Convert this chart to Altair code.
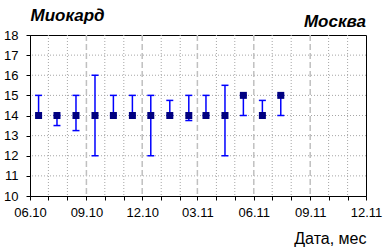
import altair as alt
import pandas as pd

dates = ["2010-06-15", "2010-07-15", "2010-08-15", "2010-09-15", "2010-10-15",
         "2010-11-15", "2010-12-15", "2011-01-15", "2011-02-15", "2011-03-15",
         "2011-04-15", "2011-05-15", "2011-06-15", "2011-07-15"]
values = [14, 14, 14, 14, 14, 14, 14, 14, 14, 14, 14, 15, 14, 15]
lows = [14, 13.5, 13.25, 12, 14, 14, 12, 14, 13.75, 14, 12, 14, 14, 14]
highs = [15, 14, 15, 16, 15, 15, 15, 14.75, 15, 15, 15.5, 15, 14.75, 15]

minor_months = ["2010-07-01", "2010-08-01", "2010-10-01", "2010-11-01", "2011-01-01",
                "2011-02-01", "2011-04-01", "2011-05-01", "2011-07-01", "2011-08-01",
                "2011-10-01", "2011-11-01"]
major_months = ["2010-09-01", "2010-12-01", "2011-03-01", "2011-06-01", "2011-09-01"]
hgrid_vals = [11, 12, 13, 14, 15, 16, 17]

df = pd.DataFrame({"date": dates, "value": values, "low": lows, "high": highs})
minor_df = pd.DataFrame({"date": minor_months})
major_df = pd.DataFrame({"date": major_months})
hgrid_df = pd.DataFrame({"y": hgrid_vals})

FONT = "Liberation Sans"

tick_vals = []
for i in range(19):
    y = 2010 + (5 + i) // 12
    m = (5 + i) % 12 + 1
    tick_vals.append(alt.DateTime(year=y, month=m, date=1, utc=True))

xscale = alt.Scale(type="utc",
                   domain=[alt.DateTime(year=2010, month=6, date=1, utc=True),
                           alt.DateTime(year=2011, month=12, date=1, utc=True)])
yscale = alt.Scale(domain=[10, 18], nice=False)

x_axis = alt.Axis(values=tick_vals,
                  labelExpr="(utcmonth(datum.value) + 1) % 3 == 0 ? utcFormat(datum.value, '%m.%y') : ''",
                  grid=False, tickSize=4, tickColor="black", domainColor="black",
                  labelFont=FONT, labelFontSize=13, labelColor="black", labelPadding=6,
                  labelFlush=False, labelOverlap=False,
                  title="Дата, мес", titleFont=FONT, titleFontSize=16, titleFontWeight="normal",
                  titleColor="black", titleAlign="right", titleBaseline="alphabetic",
                  titleX=336, titleY=47)
y_axis = alt.Axis(values=list(range(10, 19)), grid=False, tickSize=4, tickColor="black",
                  domainColor="black", labelFont=FONT, labelFontSize=13, labelColor="black",
                  labelPadding=8, labelOverlap=False,
                  title="Миокард", titleFont=FONT, titleFontSize=17, titleFontWeight="bold",
                  titleFontStyle="italic", titleColor="black", titleAngle=0,
                  titleAlign="left", titleBaseline="alphabetic", titleX=0, titleY=-15)

hgrid = alt.Chart(hgrid_df).mark_rule(color="#a6a6a6", strokeDash=[1, 2], strokeWidth=1).encode(
    y=alt.Y("y:Q", scale=yscale, axis=None))
minor = alt.Chart(minor_df).mark_rule(color="#a6a6a6", strokeDash=[1, 2], strokeWidth=1).encode(
    x=alt.X("date:T", scale=xscale, axis=None))
major = alt.Chart(major_df).mark_rule(color="#c0c0c0", strokeDash=[6, 3], strokeWidth=1.5).encode(
    x=alt.X("date:T", scale=xscale, axis=None))
err = alt.Chart(df).mark_rule(color="#0000ff", strokeWidth=1.5).encode(
    x=alt.X("date:T", scale=xscale, axis=None),
    y=alt.Y("low:Q", scale=yscale, axis=None), y2="high:Q")
cap_lo = alt.Chart(df).mark_tick(color="#0000ff", orient="horizontal", size=7, thickness=1.5,
                                 opacity=1).encode(
    x=alt.X("date:T", scale=xscale, axis=None), y=alt.Y("low:Q", scale=yscale, axis=None))
cap_hi = alt.Chart(df).mark_tick(color="#0000ff", orient="horizontal", size=7, thickness=1.5,
                                 opacity=1).encode(
    x=alt.X("date:T", scale=xscale, axis=None), y=alt.Y("high:Q", scale=yscale, axis=None))
pts = alt.Chart(df).mark_square(color="#000080", size=49, opacity=1, filled=True).encode(
    x=alt.X("date:T", scale=xscale, axis=x_axis),
    y=alt.Y("value:Q", scale=yscale, axis=y_axis))

chart = alt.layer(hgrid, minor, major, err, cap_lo, cap_hi, pts).resolve_axis(
    x="independent", y="independent"
).properties(
    width=336, height=161,
    autosize=alt.AutoSizeParams(type="none"),
    padding={"left": 30, "top": 35, "right": 23, "bottom": 56},
    background="white",
    title=alt.TitleParams("Москва", anchor="end", frame="group", font=FONT, fontSize=17,
                          fontWeight="bold", fontStyle="italic", color="black",
                          baseline="alphabetic", offset=0, dy=38),
).configure_view(stroke="black", strokeWidth=1)

chart.save("out.html", embed_options={"renderer": "svg", "actions": False})
